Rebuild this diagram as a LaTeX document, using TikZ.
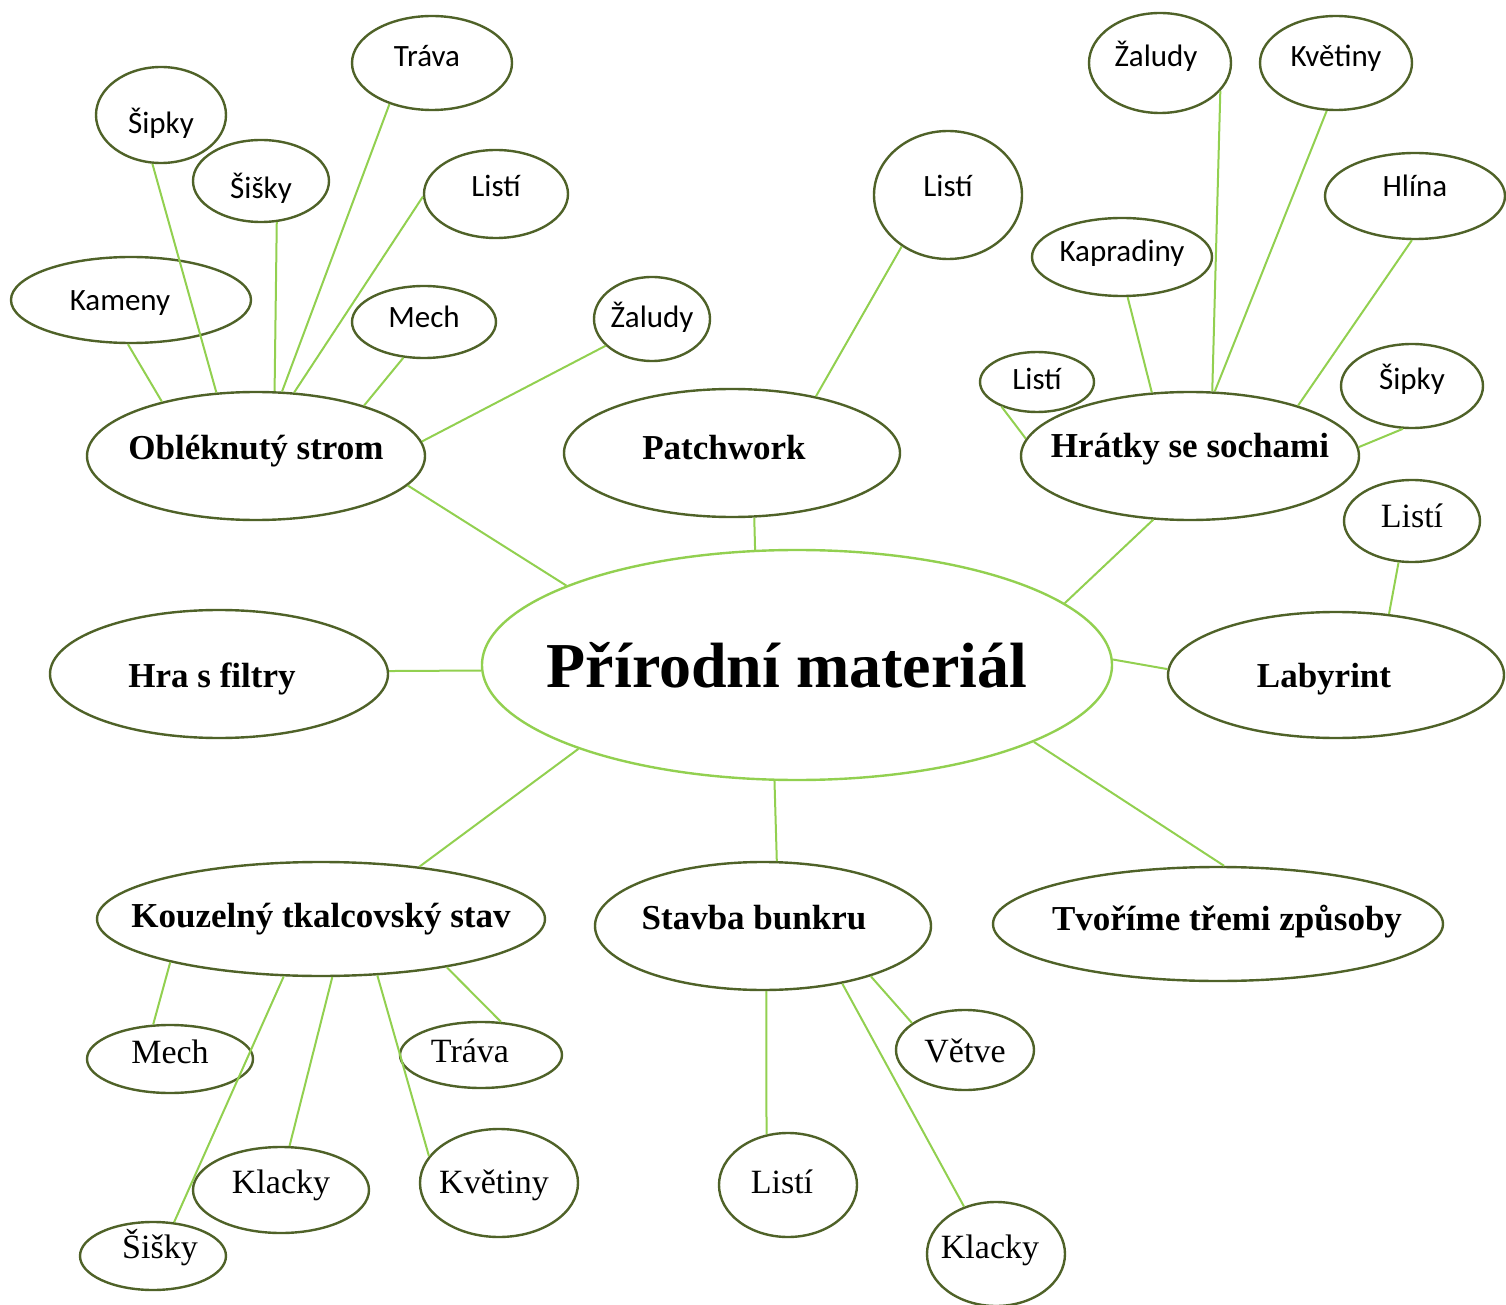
\documentclass[tikz,border=0pt]{standalone}
\usepackage{fontspec}
\setmainfont{Liberation Serif}
\newfontfamily\calibri{Carlito}
\usetikzlibrary{shapes.geometric}
\definecolor{RimClr}{HTML}{4F6228}
\definecolor{LinkClr}{HTML}{92D050}

\tikzset{
  bubble/.style={ellipse,draw=RimClr,line width=1.2pt,inner sep=0pt,text depth=0pt,
    execute at begin node={\hbox to 0pt\bgroup\hss},execute at end node={\hss\egroup}},
  nudge/.style={execute at begin node={\hbox to 0pt\bgroup\hss\kern#1pt\kern#1pt},
    execute at end node={\hss\egroup}},
  wh/.style 2 args={minimum width=#1pt,minimum height=#2pt},
  hub/.style={bubble,draw=LinkClr,font=\fontsize{32}{36}\selectfont\bfseries},
  topic/.style={bubble,font=\fontsize{17.5}{20}\selectfont\bfseries},
  leaf/.style={bubble,font=\fontsize{17}{20}\selectfont},
  sleaf/.style={bubble,font=\calibri\fontsize{15.5}{18}\selectfont},
  link/.style={draw=LinkClr,line width=1pt}
}

\begin{document}
\begin{tikzpicture}[x=0.5pt,y=-0.5pt]
\useasboundingbox (0,0) rectangle (1506,1305);

% centre
\node[hub,wh={315}{115},text height=22pt,nudge=-5] (mat) at (797,665) {Přírodní materiál};

% topics
\node[topic,wh={169}{64},text height=3pt] (strom) at (256,456) {Obléknutý strom};
\node[topic,wh={168}{64},text height=6pt,nudge=-4] (patch) at (732,453) {Patchwork};
\node[topic,wh={169}{64},text height=2pt] (hratky) at (1190,456) {Hrátky se sochami};
\node[topic,wh={169}{64},text height=13pt,nudge=-3.5] (filtry) at (219,674) {Hra s filtry};
\node[topic,wh={168}{63},text height=12pt,nudge=-6] (labyr) at (1336,675) {Labyrint};
\node[topic,wh={224}{57},text height=8pt] (tkal) at (321,919) {Kouzelný tkalcovský stav};
\node[topic,wh={168}{64},text height=3pt,nudge=-4.5] (bunkr) at (763,926) {Stavba bunkru};
\node[topic,wh={225}{57},text height=6pt,nudge=4.5] (zpusoby) at (1218,924) {Tvoříme třemi způsoby};

% Obléknutý strom
\node[sleaf,wh={65}{48},text height=19pt] (sSipky) at (161,115) {Šipky};
\node[sleaf,wh={80}{47},text height=4pt,nudge=-2.5] (sTrava) at (432,63) {Tráva};
\node[sleaf,wh={68}{41},text height=18pt] (sSisky) at (261,181) {Šišky};
\node[sleaf,wh={72}{44},text height=3pt] (sListi) at (496,194) {Listí};
\node[sleaf,wh={120}{43},text height=11pt,nudge=-5.5] (sKameny) at (131,300) {Kameny};
\node[sleaf,wh={72}{36},text height=6pt] (sMech) at (424,322) {Mech};
\node[sleaf,wh={58}{42},text height=9pt] (sZaludy) at (652,319) {Žaludy};

% Patchwork
\node[sleaf,wh={74}{64},text height=2pt] (pListi) at (948,195) {Listí};

% Hrátky se sochami
\node[sleaf,wh={71}{50},text height=4pt,nudge=-2] (hZaludy) at (1160,63) {Žaludy};
\node[sleaf,wh={76}{47},text height=4pt] (hKvetiny) at (1336,63) {Květiny};
\node[sleaf,wh={90}{43},text height=1pt] (hHlina) at (1415,196) {Hlína};
\node[sleaf,wh={90}{39},text height=5pt] (hKapradiny) at (1122,257) {Kapradiny};
\node[sleaf,wh={57}{30},text height=8pt] (hListi) at (1037,382) {Listí};
\node[sleaf,wh={71}{42},text height=4pt] (hSipky) at (1412,386) {Šipky};

% Labyrint
\node[leaf,wh={68}{41},text height=6pt] (lListi) at (1412,521) {Listí};

% Kouzelný tkalcovský stav
\node[leaf,wh={83}{34},text height=4pt] (tMech) at (170,1059) {Mech};
\node[leaf,wh={81}{33},text height=7pt,nudge=-5.5] (tTrava) at (481,1055) {Tráva};
\node[leaf,wh={88}{43},text height=3pt] (tKlacky) at (281,1190) {Klacky};
\node[leaf,wh={79}{54},text height=10pt,nudge=-2.5] (tKvetiny) at (499,1183) {Květiny};
\node[leaf,wh={73}{34},text height=2pt,nudge=3.5] (tSisky) at (153,1256) {Šišky};

% Stavba bunkru
\node[leaf,wh={69}{40},text height=12pt] (bVetve) at (965,1050) {Větve};
\node[leaf,wh={69}{52},text height=8pt,nudge=-3] (bListi) at (788,1185) {Listí};
\node[leaf,wh={69}{52},text height=4pt,nudge=-3] (bKlacky) at (996,1254) {Klacky};

% links
\draw[link] (mat.161.9) -- (strom.349);
\draw[link] (mat.110.7) -- (patch.289);
\draw[link] (mat.13) -- (hratky.240);
\draw[link] (mat.181) -- (filtry.1.5);
\draw[link] (mat.1) -- (labyr.178);
\draw[link] (mat.201) -- (tkal.28);
\draw[link] (mat.259.6) -- (bunkr.78);
\draw[link] (mat.342.4) -- (zpusoby.84);

\draw[link] (strom.150) -- (sKameny.266);
\draw[link] (strom.122.6) -- (sSipky.260.5);
\draw[link] (strom.74) -- (sSisky.291.8);
\draw[link] (strom.68.4) -- (sTrava.224.3);
\draw[link] (strom.59.5) -- (sListi.182);
\draw[link] (strom.25.7) -- (sMech.240);
\draw[link] (strom.5.5) -- (sZaludy.210);

\draw[link] (patch.34.5) -- (pListi.228.4);

\draw[link] (hratky.174.2) -- (hListi.215);
\draw[link] (hratky.121.1) -- (hKapradiny.278.7);
\draw[link] (hratky.71) -- (hZaludy.335);
\draw[link] (hratky.69) -- (hKvetiny.259);
\draw[link] (hratky.25) -- (hHlina.266);
\draw[link] (hratky.3) -- (hSipky.258);

\draw[link] (labyr.49.5) -- (lListi.252);

\draw[link] (tkal.196) -- (tMech.116.6);
\draw[link] (tkal.237) -- (tSisky.58);
\draw[link] (tkal.281) -- (tKlacky.79);
\draw[link] (tkal.315) -- (tKvetiny.159.4);
\draw[link] (tkal.339.6) -- (tTrava.59.3);

\draw[link] (bunkr.273) -- (bListi.113.2);
\draw[link] (bunkr.324.2) -- (bKlacky.124);
\draw[link] (bunkr.335.6) -- (bVetve.153.8);
\end{tikzpicture}
\end{document}
